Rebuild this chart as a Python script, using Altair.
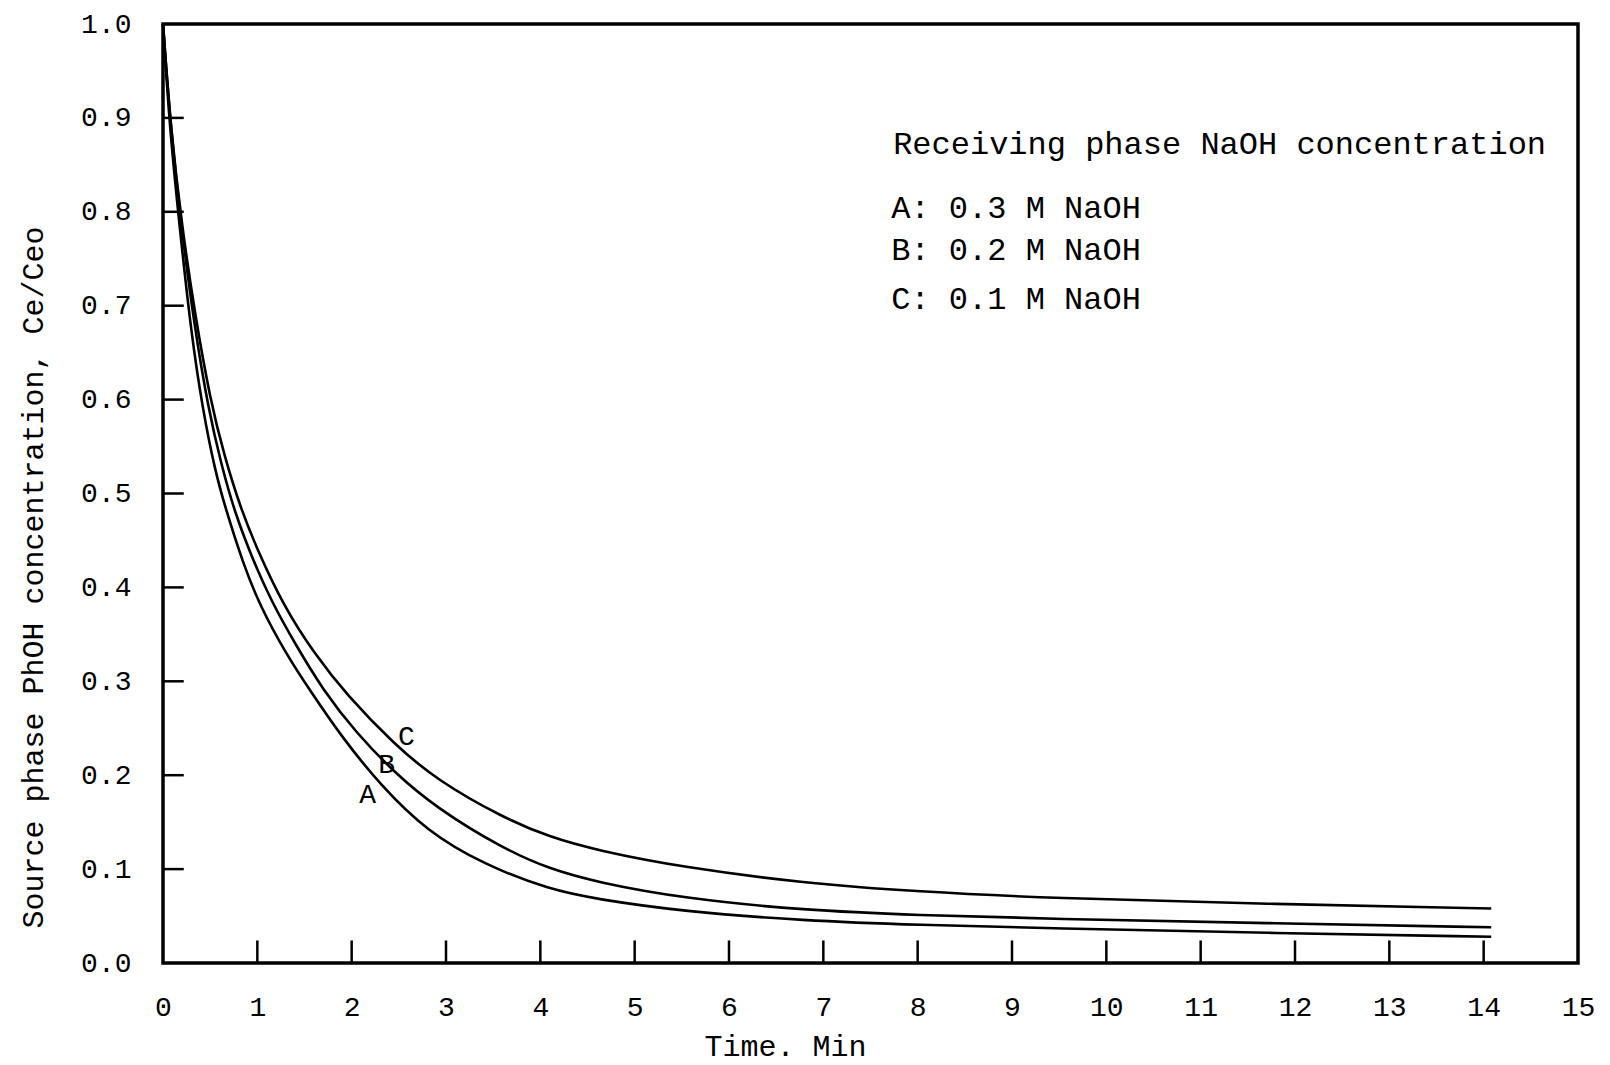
import altair as alt
import pandas as pd

# Ce/Ceo in the source phase versus time, one series per NaOH strength
time_a = [0.0, 0.07, 0.18, 0.30, 0.42, 0.55, 0.66, 0.85, 1.03, 1.30, 1.56, 1.90, 2.30, 2.80, 3.40, 4.10, 4.60, 5.50, 6.80, 8.00, 9.40, 11.70, 14.08]
conc_a = [1.0, 0.89, 0.78, 0.67, 0.59, 0.525, 0.485, 0.425, 0.38, 0.33, 0.29, 0.24, 0.19, 0.14, 0.105, 0.078, 0.068, 0.055, 0.045, 0.0405, 0.037, 0.032, 0.028]

time_b = [0.0, 0.08, 0.20, 0.33, 0.48, 0.62, 0.76, 0.95, 1.15, 1.40, 1.70, 2.05, 2.45, 2.90, 3.60, 4.10, 4.60, 5.50, 6.80, 8.00, 9.40, 11.70, 14.08]
conc_b = [1.0, 0.89, 0.78, 0.68, 0.59, 0.53, 0.48, 0.43, 0.385, 0.34, 0.29, 0.245, 0.203, 0.165, 0.122, 0.100, 0.086, 0.069, 0.056, 0.051, 0.047, 0.0425, 0.038]

time_c = [0.0, 0.08, 0.20, 0.34, 0.50, 0.65, 0.82, 1.00, 1.28, 1.60, 1.95, 2.45, 2.90, 3.60, 4.10, 4.60, 5.50, 6.80, 8.00, 9.40, 11.70, 14.08]
conc_c = [1.0, 0.89, 0.785, 0.69, 0.60, 0.54, 0.485, 0.44, 0.38, 0.33, 0.285, 0.233, 0.195, 0.155, 0.134, 0.120, 0.102, 0.085, 0.076, 0.069, 0.063, 0.058]

curve_names = ["A", "B", "C"]

x_tick_values = list(range(0, 16))
x_inner_ticks = list(range(1, 15))
y_tick_values = [round(0.1 * i, 1) for i in range(0, 11)]
y_inner_ticks = [round(0.1 * i, 1) for i in range(1, 10)]

legend_lines = [
    "Receiving phase NaOH concentration",
    "A: 0.3 M NaOH",
    "B: 0.2 M NaOH",
    "C: 0.1 M NaOH",
]

FONT = "Liberation Mono"

curves = pd.concat(
    [
        pd.DataFrame({"time": t, "conc": c, "curve": name})
        for name, t, c in zip(curve_names, [time_a, time_b, time_c], [conc_a, conc_b, conc_c])
    ],
    ignore_index=True,
)

x_scale = alt.Scale(domain=[0, 15], nice=False, zero=False)
y_scale = alt.Scale(domain=[0, 1], nice=False)

x_axis = alt.Axis(
    values=x_tick_values,
    format="d",
    title="Time. Min",
    grid=False,
    domain=False,
    ticks=False,
    tickSize=0,
    labelPadding=30,
    labelFont=FONT,
    labelFontSize=28,
    labelColor="black",
    labelFlush=False,
    titleFont=FONT,
    titleFontSize=30,
    titleFontWeight="normal",
    titleColor="black",
    titleX=622,
    titleY=83,
    titleAlign="center",
    titleBaseline="middle",
)
y_axis = alt.Axis(
    values=y_tick_values,
    format=".1f",
    title="Source phase PhOH concentration, Ce/Ceo",
    grid=False,
    domain=False,
    ticks=False,
    tickSize=0,
    labelPadding=32,
    labelFont=FONT,
    labelFontSize=28,
    labelColor="black",
    labelFlush=False,
    titleFont=FONT,
    titleFontSize=30,
    titleFontWeight="normal",
    titleColor="black",
    titleAngle=270,
    titleX=-130,
    titleY=553,
    titleAlign="center",
    titleBaseline="middle",
)


def X():
    return alt.X("time:Q", scale=x_scale, axis=x_axis)


def Y():
    return alt.Y("conc:Q", scale=y_scale, axis=y_axis)


lines = (
    alt.Chart(curves)
    .mark_line(color="black", strokeWidth=2.6, interpolate="basis")
    .encode(x=X(), y=Y(), detail="curve:N")
)

# inward tick marks along the bottom and left edges of the frame
x_tick_df = pd.DataFrame({"time": x_inner_ticks, "conc": 0.0, "conc2": 0.024})
x_ticks = (
    alt.Chart(x_tick_df)
    .mark_rule(color="black", strokeWidth=2.5)
    .encode(x=X(), y=Y(), y2="conc2:Q")
)
y_tick_df = pd.DataFrame({"conc": y_inner_ticks, "time": 0.0, "time2": 0.22})
y_ticks = (
    alt.Chart(y_tick_df)
    .mark_rule(color="black", strokeWidth=2.5)
    .encode(x=X(), x2="time2:Q", y=Y())
)

# letters naming each curve
label_df = pd.DataFrame(
    {"time": [2.17, 2.37, 2.58], "conc": [0.179, 0.211, 0.241], "label": curve_names}
)
curve_labels = (
    alt.Chart(label_df)
    .mark_text(font=FONT, fontSize=28, color="black", align="center", baseline="middle")
    .encode(x=X(), y=Y(), text="label:N")
)

legend_df = pd.DataFrame(
    {"time": [7.74, 7.72, 7.72, 7.72], "conc": [0.872, 0.804, 0.759, 0.707], "text": legend_lines}
)
legend = (
    alt.Chart(legend_df)
    .mark_text(font=FONT, fontSize=32, color="black", align="left", baseline="middle")
    .encode(x=X(), y=Y(), text="text:N")
)

chart = (
    alt.layer(lines, x_ticks, y_ticks, curve_labels, legend)
    .properties(
        width=1415,
        height=939,
        autosize=alt.AutoSizeParams(type="none"),
        padding={"left": 163, "top": 24, "right": 32, "bottom": 102},
        background="white",
    )
    .configure_view(stroke="black", strokeWidth=3.5)
)

chart.save("out.html", embed_options={"renderer": "svg", "actions": False})
